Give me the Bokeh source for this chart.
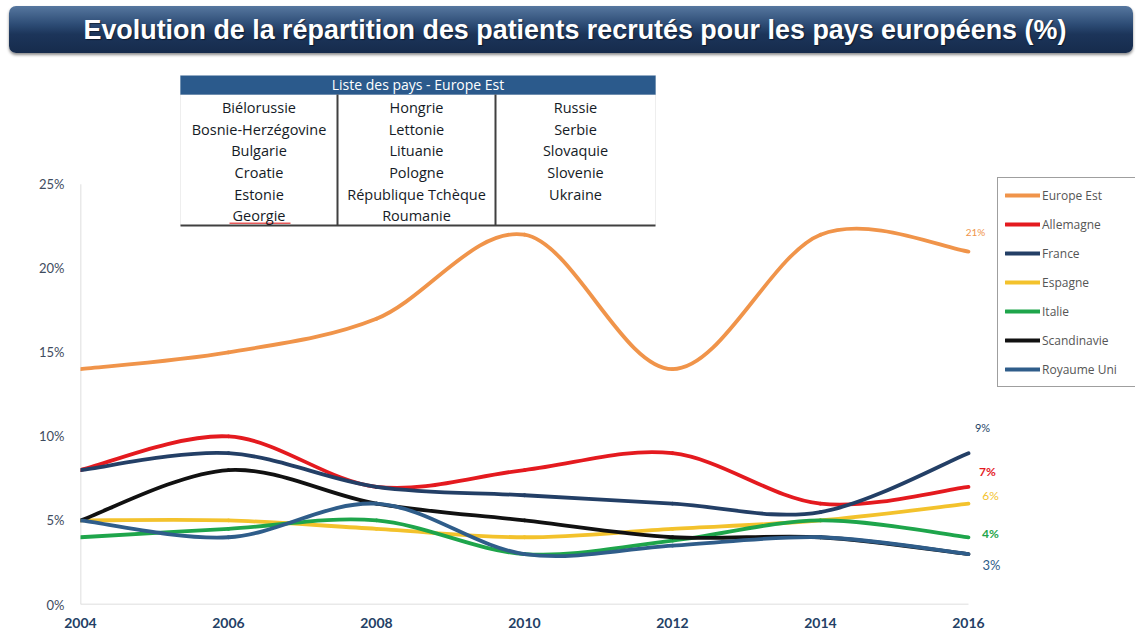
import numpy as np
from bokeh.plotting import figure
from bokeh.models import (Range1d, FixedTicker, CustomJSTickFormatter, Legend, LegendItem,
                          LabelSet, BoxAnnotation, ColumnDataSource, Div)
from bokeh.core.properties import value
from bokeh.layouts import column
from bokeh.embed import file_html
from bokeh.resources import INLINE

# ---------------- data ----------------
years = [2004, 2006, 2008, 2010, 2012, 2014, 2016]
europe_est = [14, 15, 17, 22, 14, 22, 21]
allemagne = [8, 10, 7, 8, 9, 6, 7]
france = [8, 9, 7, 6.5, 6, 5.5, 9]
espagne = [5, 5, 4.5, 4, 4.5, 5, 6]
italie = [4, 4.5, 5, 3, 3.8, 5, 4]
scandinavie = [5, 8, 6, 5, 4, 4, 3]
royaume_uni = [5, 4, 6, 3, 3.5, 4, 3]

series_names = ["Europe Est", "Allemagne", "France", "Espagne", "Italie", "Scandinavie", "Royaume Uni"]
series_values = [europe_est, allemagne, france, espagne, italie, scandinavie, royaume_uni]
end_labels = ["21%", "7%", "9%", "6%", "4%", None, "3%"]

y_ticks = [0, 5, 10, 15, 20, 25]
x_ticks = years

title_text = "Evolution de la répartition des patients recrutés pour les pays européens (%)"
table_title = "Liste des pays - Europe Est"
table_col1 = ["Biélorussie", "Bosnie-Herzégovine", "Bulgarie", "Croatie", "Estonie", "Georgie"]
table_col2 = ["Hongrie", "Lettonie", "Lituanie", "Pologne", "République Tchèque", "Roumanie"]
table_col3 = ["Russie", "Serbie", "Slovaquie", "Slovenie", "Ukraine"]

# ---------------- styles ----------------
colors = ["#F0944A", "#E41A1F", "#233F66", "#F3C22C", "#1EA54B", "#111111", "#2F5D8A"]
lab_dx = [7, 19, 14, 22, 22, 0, 23]
lab_dy = [20, 15, 26, 8, 4, 0, -11]
lab_size = ["10px", "12px", "11px", "12px", "12px", "12px", "13px"]
lab_style = ["normal", "bold", "normal", "normal", "bold", "normal", "normal"]

W, FH = 1135, 570
PAGE_FL, PAGE_FB = 80, 603         # frame left / bottom in page coords
PAGE_FT, PAGE_FR = 73, 1135        # frame top / right in page coords (frame holds table & legend)
PAGE_X2016, PAGE_Y25 = 968, 182    # where 2016 and 25% sit on the page
FIG_TOP = 58

px_per_year = (PAGE_X2016 - PAGE_FL) / (years[-1] - years[0])
px_per_pct = (PAGE_FB - PAGE_Y25) / y_ticks[-1]
x_end = years[-1] + (PAGE_FR - PAGE_X2016) / px_per_year
y_end = y_ticks[-1] + (PAGE_Y25 - PAGE_FT) / px_per_pct


def sx(px):
    return px - PAGE_FL


def sy(py):
    return PAGE_FB - py


def smooth_segments(xs, ys):
    x = np.asarray(xs, float)
    y = np.asarray(ys, float)
    n = len(x)
    xp = np.concatenate([[x[0]], x, [x[-1]]])
    yp = np.concatenate([[y[0]], y, [y[-1]]])
    cx0 = x[:-1] + (xp[2:n + 1] - xp[0:n - 1]) / 6
    cy0 = y[:-1] + (yp[2:n + 1] - yp[0:n - 1]) / 6
    cx1 = x[1:] - (xp[3:n + 2] - xp[1:n]) / 6
    cy1 = y[1:] - (yp[3:n + 2] - yp[1:n]) / 6
    return dict(x0=x[:-1], y0=y[:-1], x1=x[1:], y1=y[1:], cx0=cx0, cy0=cy0, cx1=cx1, cy1=cy1)


p = figure(width=W, height=FH, x_range=Range1d(years[0], x_end), y_range=Range1d(0, y_end),
           output_backend="svg", toolbar_location=None,
           min_border_left=PAGE_FL, min_border_right=W - PAGE_FR,
           min_border_top=PAGE_FT - FIG_TOP, min_border_bottom=FIG_TOP + FH - PAGE_FB)
p.outline_line_color = None
p.xgrid.visible = False
p.ygrid.visible = False
p.background_fill_color = "white"
p.border_fill_color = "white"

# axes
p.yaxis.ticker = FixedTicker(ticks=y_ticks)
p.yaxis.formatter = CustomJSTickFormatter(code="return tick + '%';")
p.yaxis.major_tick_line_color = None
p.yaxis.major_tick_out = 0
p.yaxis.minor_tick_line_color = None
p.yaxis.axis_line_color = None
p.yaxis.major_label_text_font = "Lato"
p.yaxis.major_label_text_font_size = "13px"
p.yaxis.major_label_text_color = "#3E4B5E"
p.yaxis.major_label_standoff = 16

p.xaxis.ticker = FixedTicker(ticks=x_ticks)
p.xaxis.major_tick_line_color = None
p.xaxis.major_tick_out = 0
p.xaxis.minor_tick_line_color = None
p.xaxis.axis_line_color = None
p.xaxis.major_label_text_font = "Lato"
p.xaxis.major_label_text_font_size = "14px"
p.xaxis.major_label_text_font_style = "bold"
p.xaxis.major_label_text_color = "#243F66"
p.xaxis.major_label_standoff = 13

# visible axis lines limited to the plotting area
p.segment(x0=[years[0], years[0]], y0=[y_ticks[0], y_ticks[0]],
          x1=[years[0], years[-1]], y1=[y_ticks[-1], y_ticks[0]],
          line_color="#D4D4D4", line_width=1.5)

# lines
items = []
for name, vals, col in zip(series_names, series_values, colors):
    src = ColumnDataSource(smooth_segments(years, vals))
    r = p.bezier(x0="x0", y0="y0", x1="x1", y1="y1", cx0="cx0", cy0="cy0", cx1="cx1", cy1="cy1",
                 source=src, line_color=col, line_width=3.8, line_cap="round")
    items.append(LegendItem(label=name, renderers=[r]))

# end labels
for vals, txt, col, dx, dy, fs, st in zip(series_values, end_labels, colors, lab_dx, lab_dy, lab_size, lab_style):
    if txt is None:
        continue
    src = ColumnDataSource(dict(x=[years[-1]], y=[vals[-1]], t=[txt]))
    p.add_layout(LabelSet(x="x", y="y", text="t", source=src, x_offset=dx, y_offset=dy,
                          text_align="center", text_baseline="middle", text_color=col,
                          text_font=value("Lato"), text_font_size=value(fs),
                          text_font_style=value(st)))

# legend
legend = Legend(items=items, location=(sx(997), sy(386)), orientation="vertical",
                glyph_width=35, glyph_height=20, label_height=20, label_width=86,
                label_standoff=2, spacing=9, padding=7, margin=0,
                label_text_font="Open Sans", label_text_font_size="12px", label_text_color="#555555",
                border_line_color="#404040", border_line_width=1,
                background_fill_color="white", background_fill_alpha=1)
p.add_layout(legend, "center")

# country table
TL, TR, TTOP, THB, TBOT = 180, 655, 73, 93, 224
scr = dict(left_units="screen", right_units="screen", top_units="screen", bottom_units="screen")
p.add_layout(BoxAnnotation(left=sx(TL), right=sx(TR), top=sy(THB), bottom=sy(TBOT),
                           fill_color="white", fill_alpha=1, line_color="#C8C8C8", line_width=1, **scr))
p.add_layout(BoxAnnotation(left=sx(TL), right=sx(TR), top=sy(TTOP), bottom=sy(THB),
                           fill_color="#2B5A8C", fill_alpha=1, line_color="#2B5A8C", line_width=1, **scr))
p.add_layout(BoxAnnotation(left=sx(TL), right=sx(TR), top=sy(TBOT - 1), bottom=sy(TBOT + 1),
                           fill_color="#404040", fill_alpha=1, line_color=None, **scr))
for xsep in (337, 495):
    p.add_layout(BoxAnnotation(left=sx(xsep - 1), right=sx(xsep + 1), top=sy(THB), bottom=sy(TBOT),
                               fill_color="#404040", fill_alpha=1, line_color=None, **scr))
# spell-check underline under "Georgie"
p.add_layout(BoxAnnotation(left=sx(229), right=sx(290), top=sy(221), bottom=sy(222.5),
                           fill_color="#E03030", fill_alpha=0.8, line_color=None, **scr))

hdr_src = ColumnDataSource(dict(x=[sx((TL + TR) / 2)], y=[sy((TTOP + THB) / 2)], t=[table_title]))
p.add_layout(LabelSet(x="x", y="y", text="t", source=hdr_src, x_units="screen", y_units="screen",
                      text_align="center", text_baseline="middle", text_color="white",
                      text_font=value("Open Sans"), text_font_size=value("14px")))

col_centers = [258.5, 416, 575]
row0, row_step = 106, 21.65
tx, ty, tt = [], [], []
for cc, names in zip(col_centers, [table_col1, table_col2, table_col3]):
    for i, nm in enumerate(names):
        tx.append(sx(cc))
        ty.append(sy(row0 + i * row_step))
        tt.append(nm)
tab_src = ColumnDataSource(dict(x=tx, y=ty, t=tt))
p.add_layout(LabelSet(x="x", y="y", text="t", source=tab_src, x_units="screen", y_units="screen",
                      text_align="center", text_baseline="middle", text_color="#151B26",
                      text_font=value("Open Sans"), text_font_size=value("14.5px")))

# title banner
banner = Div(text=(
    '<div style="margin:1px 0 0 4px; height:47px; line-height:47px; border-radius:7px;'
    'background:linear-gradient(#56779f 0%, #2c4b74 40%, #1c355a 60%, #162b4c 100%);'
    'box-shadow:0 2px 3px rgba(0,0,0,0.45); color:white; text-align:center; width:1124px;'
    'padding-left:8px; box-sizing:border-box;">'
    '<span style="display:inline-block; transform:scaleX(0.96);'
    "font-family:'Liberation Sans',Arial,sans-serif; font-weight:bold; font-size:28px;"
    'text-shadow:1px 1px 1px rgba(0,0,0,0.5);">' + title_text + '</span></div>'),
    width=W, height=50)

layout = column(banner, p, spacing=0)
open("out.html", "w").write(file_html(layout, INLINE))
